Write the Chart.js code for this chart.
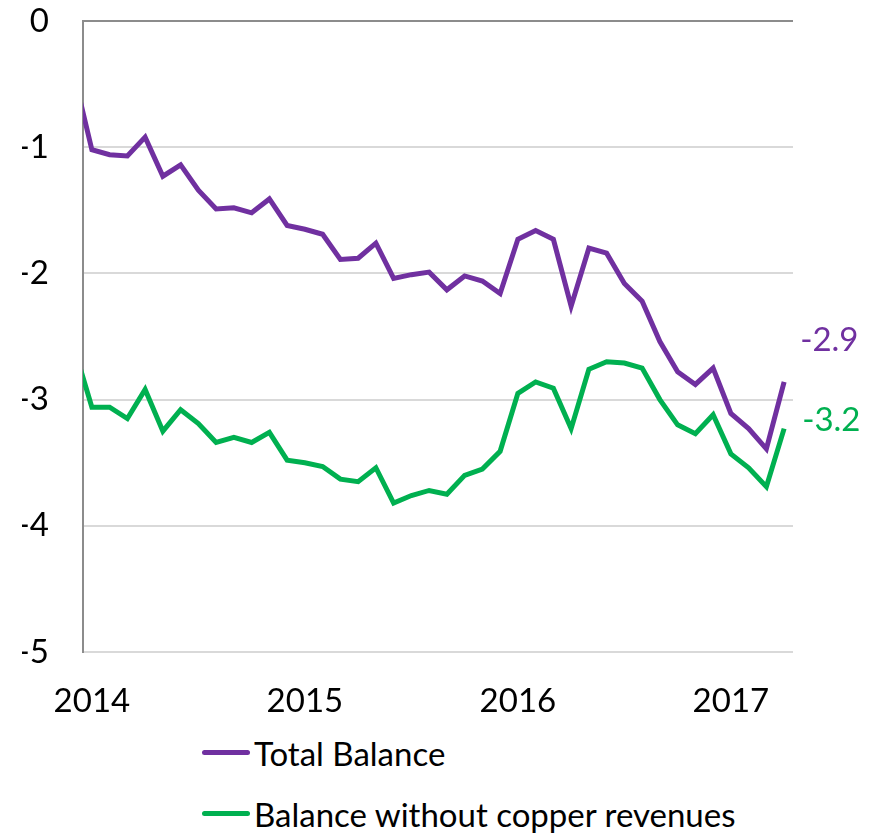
<!DOCTYPE html>
<html>
<head>
<meta charset="utf-8">
<script src="https://cdn.jsdelivr.net/npm/chart.js@4/dist/chart.umd.min.js"></script>
<style>
  body { margin: 0; background: #fff; font-family: Lato, sans-serif; }
  #wrap { position: relative; width: 875px; height: 834px; }
  #legend { padding-left: 202px; }
  .legend-row { height: 61px; display: flex; align-items: center; font-size: 33px; color: #000; }
  .legend-line { width: 48px; height: 5px; border-radius: 3px; margin-right: 4px; }
</style>
</head>
<body>
<div id="wrap">
  <canvas id="chart" width="875" height="722"></canvas>
  <div id="legend"></div>
</div>
<script>
// Monthly data, Dec 2013 (clipped at the axis) to Apr 2017
const months = [
  '2013-12',
  '2014-01','2014-02','2014-03','2014-04','2014-05','2014-06','2014-07','2014-08','2014-09','2014-10','2014-11','2014-12',
  '2015-01','2015-02','2015-03','2015-04','2015-05','2015-06','2015-07','2015-08','2015-09','2015-10','2015-11','2015-12',
  '2016-01','2016-02','2016-03','2016-04','2016-05','2016-06','2016-07','2016-08','2016-09','2016-10','2016-11','2016-12',
  '2017-01','2017-02','2017-03','2017-04'
];

const totalBalance = [
  -0.43,
  -1.02, -1.06, -1.07, -0.92, -1.23, -1.14, -1.34, -1.49, -1.48, -1.52, -1.41, -1.62,
  -1.65, -1.69, -1.89, -1.88, -1.76, -2.04, -2.01, -1.99, -2.13, -2.02, -2.06, -2.16,
  -1.73, -1.66, -1.73, -2.26, -1.80, -1.84, -2.08, -2.22, -2.54, -2.78, -2.88, -2.75,
  -3.11, -3.23, -3.39, -2.86
];

const balanceNoCopper = [
  -2.59,
  -3.06, -3.06, -3.15, -2.92, -3.25, -3.08, -3.19, -3.34, -3.30, -3.34, -3.26, -3.48,
  -3.50, -3.53, -3.63, -3.65, -3.54, -3.82, -3.76, -3.72, -3.75, -3.60, -3.55, -3.41,
  -2.95, -2.86, -2.91, -3.23, -2.76, -2.70, -2.71, -2.75, -3.00, -3.20, -3.27, -3.12,
  -3.43, -3.54, -3.69, -3.23
];

const seriesNames = ['Total Balance', 'Balance without copper revenues'];
const seriesColors = ['#7030a0', '#00b050'];

const FONT = { family: 'Lato, sans-serif', size: 33 };

// Value labels next to the last point of each line
const endLabels = {
  id: 'endLabels',
  afterDatasetsDraw(chart, args, opts) {
    const ctx = chart.ctx;
    ctx.save();
    ctx.font = `${FONT.size}px ${FONT.family}`;
    ctx.textAlign = 'left';
    ctx.textBaseline = 'middle';
    chart.data.datasets.forEach((ds, i) => {
      const meta = chart.getDatasetMeta(i);
      const pt = meta.data[meta.data.length - 1];
      const off = opts.offsets[i];
      ctx.fillStyle = ds.borderColor;
      ctx.fillText(ds.data[ds.data.length - 1].toFixed(1), pt.x + off[0], pt.y + off[1]);
    });
    ctx.restore();
  }
};

const chart = new Chart(document.getElementById('chart'), {
  type: 'line',
  data: {
    labels: months,
    datasets: [
      {
        label: seriesNames[0],
        data: totalBalance,
        borderColor: seriesColors[0],
        backgroundColor: seriesColors[0],
        borderWidth: 5,
        pointRadius: 0,
        tension: 0,
        clip: { left: 0, top: 5, right: 5, bottom: 5 }
      },
      {
        label: seriesNames[1],
        data: balanceNoCopper,
        borderColor: seriesColors[1],
        backgroundColor: seriesColors[1],
        borderWidth: 5,
        pointRadius: 0,
        tension: 0,
        clip: { left: 0, top: 5, right: 5, bottom: 5 }
      }
    ]
  },
  options: {
    responsive: false,
    animation: false,
    layout: { padding: { left: 22, right: 82, top: 21, bottom: 0 } },
    plugins: {
      legend: { display: false },
      tooltip: { enabled: false },
      endLabels: { offsets: [[16, -42], [18, -8]] }
    },
    scales: {
      x: {
        type: 'category',
        min: '2014-01',
        offset: true,
        afterFit: (axis) => {
          axis.height = 70;
          axis.paddingLeft = 0;
          axis.paddingRight = 0;
        },
        grid: { display: false, drawTicks: false },
        border: { display: false },
        ticks: {
          autoSkip: false,
          maxRotation: 0,
          padding: 30,
          color: '#000',
          font: FONT,
          callback: function (val) {
            const m = this.getLabelForValue(val);
            return m.endsWith('-01') ? m.slice(0, 4) : null;
          }
        }
      },
      y: {
        min: -5,
        max: 0,
        afterFit: (axis) => {
          axis.width = 61;
          axis.paddingTop = 0;
          axis.paddingBottom = 0;
        },
        grid: {
          drawTicks: false,
          lineWidth: 2,
          color: (c) => (c.tick && c.tick.value === 0 ? '#8c8c8c' : '#d9d9d9')
        },
        border: { display: true, color: '#8c8c8c', width: 2 },
        ticks: {
          stepSize: 1,
          padding: 34,
          color: '#000',
          font: FONT
        }
      }
    }
  },
  plugins: [endLabels]
});

// HTML legend, one entry per row
const legendEl = document.getElementById('legend');
chart.data.datasets.forEach(ds => {
  const row = document.createElement('div');
  row.className = 'legend-row';
  row.innerHTML = `<span class="legend-line" style="background:${ds.borderColor}"></span><span>${ds.label}</span>`;
  legendEl.appendChild(row);
});
</script>
</body>
</html>
